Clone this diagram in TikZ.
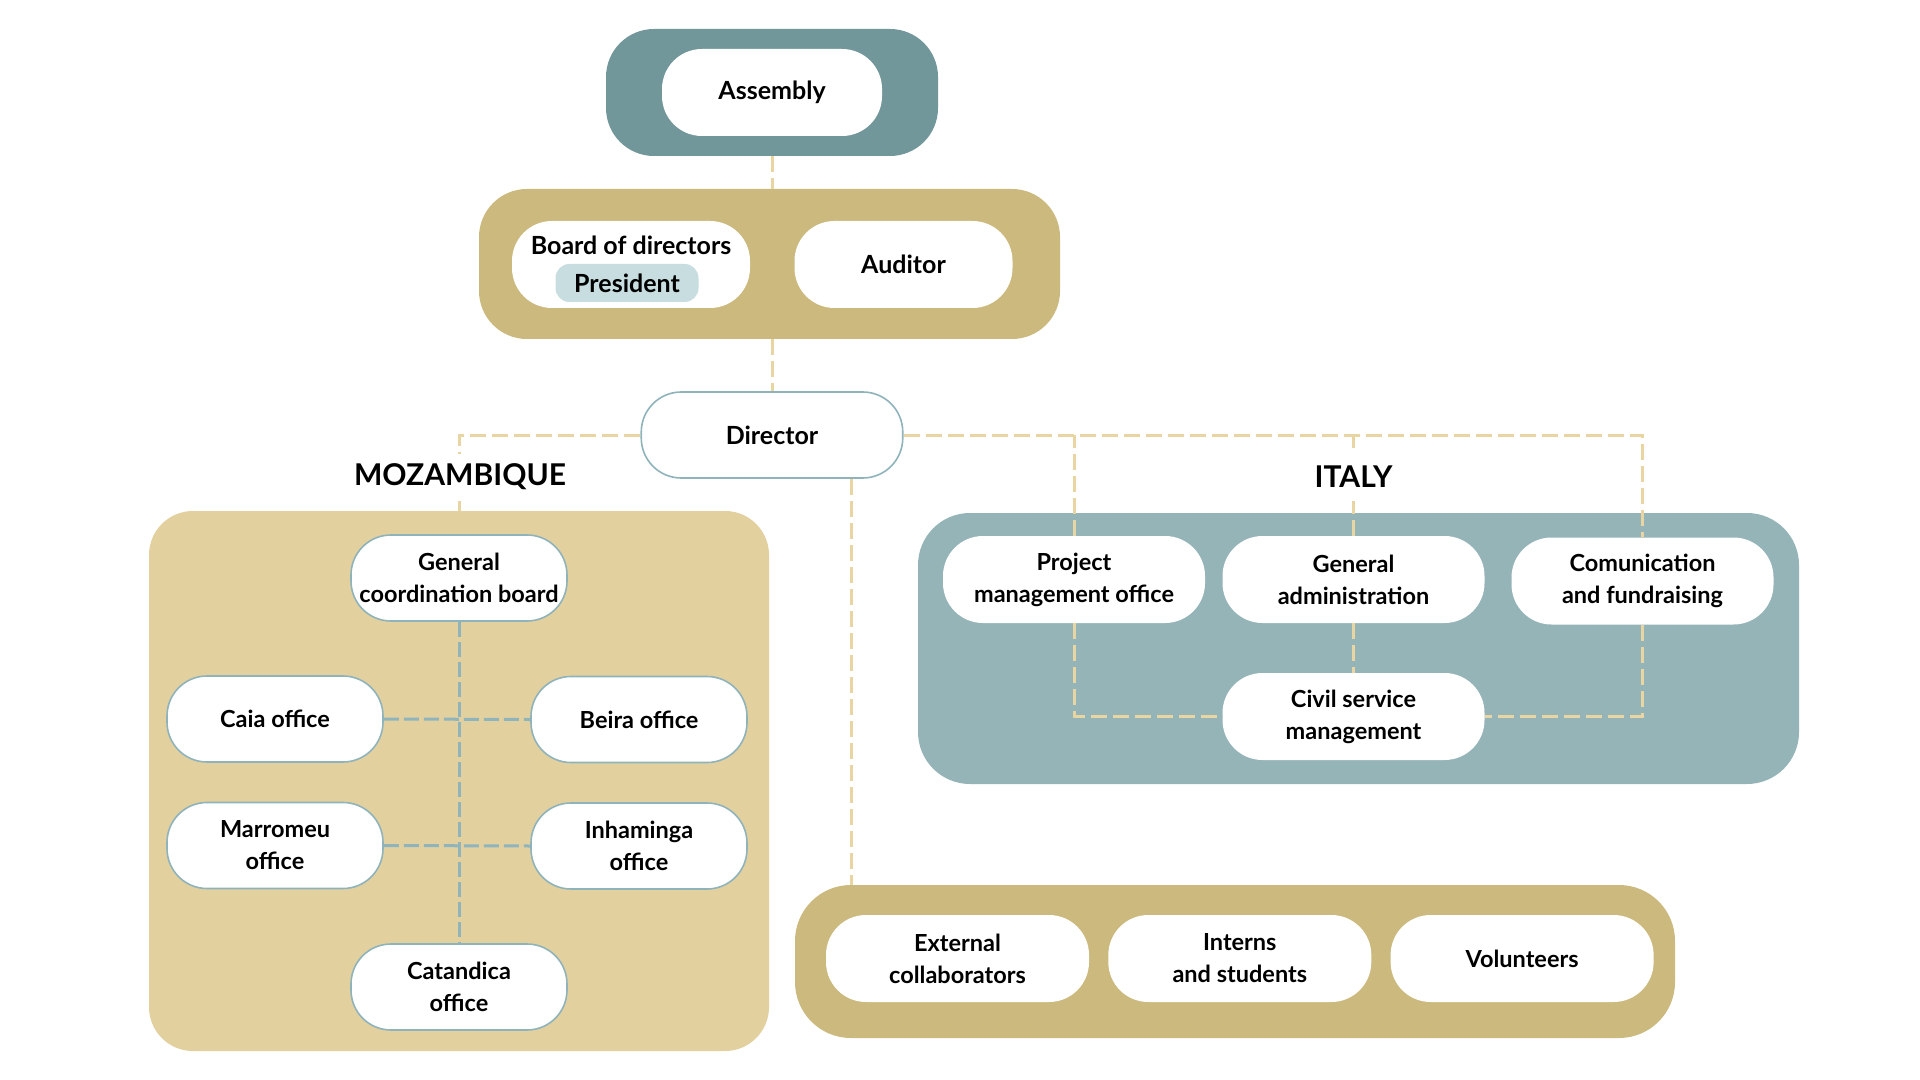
\documentclass[tikz,border=0pt]{standalone}
\usepackage{fontspec}
\setmainfont{Lato}
\usetikzlibrary{positioning}

\definecolor{asmteal}{HTML}{72979A}
\definecolor{goldbox}{HTML}{CBB97E}
\definecolor{sandbox}{HTML}{E3D09F}
\definecolor{itblue}{HTML}{95B4B8}
\definecolor{badge}{HTML}{C7DDE0}
\definecolor{dashtan}{HTML}{E8D5A2}
\definecolor{dashteal}{HTML}{8FB4BC}
\definecolor{edgeteal}{HTML}{8FB3BA}

\begin{document}
\begin{tikzpicture}[
   x=0.5pt,y=-0.5pt,
   node distance=9.25pt,
   every node/.style={font=\fontsize{11.75pt}{16pt}\selectfont\bfseries,align=center,inner sep=0pt},
   topfont/.style={font=\fontsize{12.5pt}{16pt}\selectfont\bfseries},
   panel/.style={rounded corners=24pt},
   pill/.style={fill=white,rounded corners=20pt,minimum width=131pt,minimum height=43.5pt},
   mzpill/.style={pill,draw=edgeteal,line width=0.8pt,minimum width=108pt,minimum height=43pt},
   country/.style={fill=white,font=\fontsize{15pt}{16pt}\selectfont\bfseries,minimum height=23.5pt,inner xsep=4pt},
   link/.style={draw=dashtan,line width=1.5pt,dash pattern=on 8pt off 3pt},
   mzlink/.style={draw=dashteal,line width=1.5pt,dash pattern=on 7.5pt off 2.5pt}]
  \useasboundingbox[fill=white] (0,0) rectangle (1920,1080);

  % governing bodies
  \node[panel,fill=asmteal,minimum width=166pt,minimum height=63.5pt] (asmpanel) at (772,92.5) {};
  \node[pill,topfont,minimum width=110pt] (assembly) at (772,92.5) {Assembly};
  \node[panel,fill=goldbox,minimum width=290.5pt,minimum height=75pt] (boardpanel) at (769.5,264) {};
  \node[pill,minimum width=119pt] (board) at (631,264.5) {};
  \node[topfont,anchor=base] (boardlbl) at (631,255) {Board of directors};
  \node[topfont,fill=badge,rounded corners=7pt,minimum width=71.5pt,minimum height=19pt] (president) at (627,283) {President};
  \node[pill,topfont,minimum width=109pt] (auditor) at (903.5,264.5) {Auditor};
  \node[pill,topfont,draw=edgeteal,line width=0.8pt,minimum width=130.75pt,minimum height=43pt] (director) at (772,435) {Director};

  % Mozambique
  \node[panel,fill=sandbox,rounded corners=22pt,minimum width=310pt,minimum height=270pt] (mozpanel) at (459,781) {};
  \node[mzpill] (gcb) at (459,578) {General\\coordination board};
  \node[mzpill] (caia) at (275,719) {Caia office};
  \node[mzpill] (beira) at (639,719.5) {Beira office};
  \node[mzpill] (marromeu) at (275,845.5) {Marromeu\\office};
  \node[mzpill] (inhaminga) at (639,846) {Inhaminga\\office};
  \node[mzpill] (catandica) at (459,987) {Catandica\\office};

  % Italy
  \node[panel,fill=itblue,rounded corners=26pt,minimum width=440.5pt,minimum height=135.5pt] (itpanel) at (1358.5,648.5) {};
  \node[pill] (pmo) at (1074,579.5) {Project\\management office};
  \node[pill] (genadmin) at (1353.5,579.5) {General\\administration};
  \node[pill] (comm) at (1642.5,581) {Comunication\\and fundraising};
  \node[pill] (civil) at (1353.5,716.5) {Civil service\\management};

  % collaborators
  \node[panel,fill=goldbox,rounded corners=28pt,minimum width=440pt,minimum height=76.5pt] (crewpanel) at (1235,961.5) {};
  \node[pill,minimum width=131.5pt] (external) at (957.5,958.5) {External\\collaborators};
  \node[pill,minimum width=131.5pt,right=of external] (interns) {Interns\\and students};
  \node[pill,minimum width=131.5pt,right=of interns] (volunteers) {Volunteers};

  % connectors
  \draw[link] (asmpanel.south) -- (asmpanel.south |- boardpanel.north);
  \draw[link] (director.north |- boardpanel.south) -- (director.north);
  \draw[link] (director.west) -| (mozpanel.north);
  \draw[link] (director.east) -| (comm.north);
  \draw[link] (pmo.north) -- (pmo.north |- director.east);
  \draw[link] (genadmin.north) -- (genadmin.north |- director.east);
  \draw[link] ([xshift=39.5pt]director.south) -- ([xshift=39.5pt]director.south |- crewpanel.north);
  \draw[link] (pmo.south) |- (civil.west);
  \draw[link] (comm.south) |- (civil.east);
  \draw[link] (genadmin.south) -- (civil.north);
  \draw[mzlink] (gcb.south) -- (catandica.north);
  \draw[mzlink] (caia.east) -- (beira.west);
  \draw[mzlink] (marromeu.east) -- (inhaminga.west);

  \node[country] (mozlbl) at (460,477) {MOZAMBIQUE};
  \node[country] (italylbl) at (1353.5,477) {ITALY};
\end{tikzpicture}
\end{document}
